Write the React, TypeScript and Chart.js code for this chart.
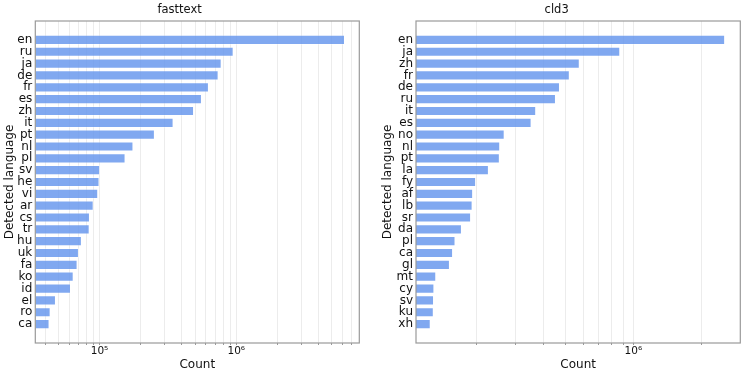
import React, { useEffect, useRef } from "react";
import { Chart, registerables } from "chart.js";

Chart.register(...registerables);

const fasttextLangs = ["en","ru","ja","de","fr","es","zh","it","pt","nl","pl","sv","he","vi","ar","cs","tr","hu","uk","fa","ko","id","el","ro","ca"];
const fasttextCounts = [6240000, 957000, 782000, 743000, 631000, 561000, 491000, 348000, 254000, 177000, 155000, 101000, 100000, 97800, 90600, 85100, 84700, 74300, 70700, 69100, 64700, 61800, 48000, 43900, 43100];

const cld3Langs = ["en","ja","zh","fr","de","ru","it","es","no","nl","pt","la","fy","af","lb","sr","da","pl","ca","gl","mt","cy","sv","ku","xh"];
const cld3Counts = [2560000, 875000, 578000, 522000, 472000, 453000, 370000, 353000, 268000, 256000, 255000, 228000, 200000, 194000, 193000, 190000, 173000, 162000, 158000, 153000, 133000, 130500, 130000, 129700, 125700];

const panelTitles = ["fasttext", "cld3"];
const xAxisTitle = "Count";
const yAxisTitle = "Detected language";

const SUP: Record<string, string> = { "0": "⁰", "1": "¹", "2": "²", "3": "³", "4": "⁴", "5": "⁵", "6": "⁶", "7": "⁷", "8": "⁸", "9": "⁹" };

function logTicks(min: number, max: number) {
  const out: { value: number; major: boolean }[] = [];
  for (let e = Math.floor(Math.log10(min)); e <= Math.ceil(Math.log10(max)); e++) {
    for (let m = 1; m <= 9; m++) {
      const v = m * Math.pow(10, e);
      if (v >= min && v <= max) out.push({ value: v, major: m === 1 });
    }
  }
  return out;
}

const framePlugin = {
  id: "frame",
  afterDraw(chart: any) {
    const { ctx, chartArea } = chart;
    ctx.save();
    ctx.strokeStyle = "#9a9a9a";
    ctx.lineWidth = 1.2;
    ctx.strokeRect(chartArea.left, chartArea.top, chartArea.right - chartArea.left, chartArea.bottom - chartArea.top);
    ctx.restore();
  },
};

type PanelProps = {
  title: string;
  langs: string[];
  counts: number[];
  xmin: number;
  xmax: number;
  width: number;
  yWidth: number;
  padRight: number;
  yTitlePad: number;
};

function Panel(p: PanelProps) {
  const ref = useRef<HTMLCanvasElement>(null);
  useEffect(() => {
    if (!ref.current) return;
    const n = p.langs.length;
    const chart = new Chart(ref.current, {
      type: "bar",
      data: {
        datasets: [
          {
            data: p.counts.map((c, i) => ({ x: c, y: i })),
            backgroundColor: "rgba(100,149,237,0.82)",
            borderColor: "rgba(255,255,255,0.3)",
            borderWidth: 1,
            barPercentage: 0.86,
            categoryPercentage: 1,
          },
        ],
      },
      options: {
        indexAxis: "y",
        animation: false,
        responsive: false,
        events: [],
        layout: { padding: { top: 0, left: 0, right: p.padRight, bottom: 0 } },
        plugins: {
          legend: { display: false },
          tooltip: { enabled: false },
          title: {
            display: true,
            text: p.title,
            color: "#111",
            font: { size: 11.5, family: "DejaVu Sans", weight: "normal" },
            padding: { top: 3.2, bottom: 4 },
          },
        },
        scales: {
          x: {
            type: "logarithmic",
            position: "bottom",
            min: p.xmin,
            max: p.xmax,
            afterBuildTicks: (scale: any) => {
              scale.ticks = logTicks(p.xmin, p.xmax);
            },
            afterFit: (scale: any) => {
              scale.height = 30;
            },
            ticks: {
              autoSkip: false,
              maxRotation: 0,
              padding: 0,
              color: "#111",
              font: { size: 10.5, family: "DejaVu Sans" },
              callback: (v: any) => {
                const val = Number(v);
                const e = Math.round(Math.log10(val));
                if (Math.abs(val - Math.pow(10, e)) / val < 1e-9) {
                  return "10" + String(e).split("").map((d) => SUP[d]).join("");
                }
                return "";
              },
            },
            grid: {
              color: "rgba(0,0,0,0.075)",
              lineWidth: 1,
              tickLength: 2,
              tickColor: "#9a9a9a",
            },
            border: { display: false },
            title: {
              display: true,
              text: xAxisTitle,
              color: "#111",
              font: { size: 12, family: "DejaVu Sans" },
              padding: { top: 0, bottom: 0.8 },
            },
          },
          y: {
            type: "linear",
            reverse: true,
            offset: false,
            min: -1.6,
            max: n - 1 + 1.6,
            afterBuildTicks: (scale: any) => {
              scale.ticks = p.langs.map((_, i) => ({ value: i }));
            },
            afterFit: (scale: any) => {
              scale.width = p.yWidth;
            },
            ticks: {
              autoSkip: false,
              padding: 3,
              color: "#111",
              font: { size: 12, family: "DejaVu Sans" },
              callback: (v: any) => p.langs[Math.round(Number(v))] ?? "",
            },
            grid: { display: false, drawTicks: false, offset: false },
            border: { display: false },
            title: {
              display: true,
              text: yAxisTitle,
              color: "#111",
              font: { size: 12, family: "DejaVu Sans" },
              padding: { top: p.yTitlePad, bottom: 0 },
            },
          },
        },
      },
      plugins: [framePlugin],
    } as any);
    return () => chart.destroy();
  }, []);
  return <canvas ref={ref} width={p.width} height={373} style={{ width: p.width, height: 373, display: "block" }} />;
}

export default function App() {
  return (
    <div style={{ position: "fixed", left: 0, top: 0, width: 747, height: 373, background: "#fff", display: "flex" }}>
      <Panel title={panelTitles[0]} langs={fasttextLangs} counts={fasttextCounts} xmin={33900} xmax={7940000} width={373} yWidth={35.3} padRight={13.7} yTitlePad={2.8} />
      <Panel title={panelTitles[1]} langs={cld3Langs} counts={cld3Counts} xmin={108100} xmax={2990000} width={374} yWidth={43} padRight={6.7} yTitlePad={7.8} />
    </div>
  );
}
